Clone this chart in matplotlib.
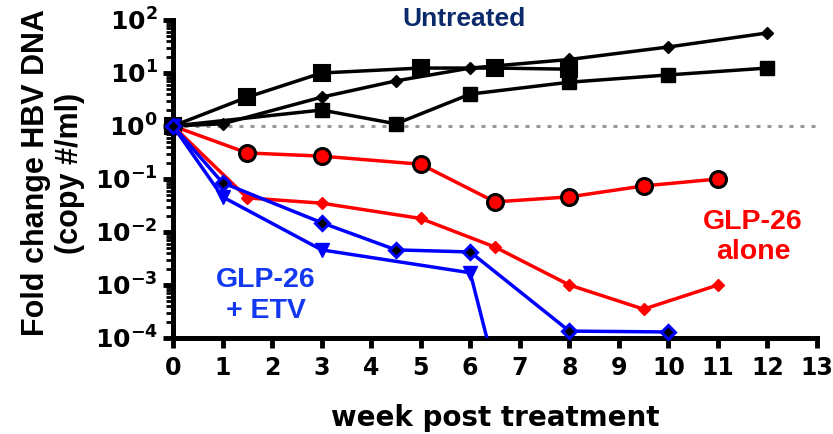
import numpy as np
import matplotlib
matplotlib.use("Agg")
import matplotlib.pyplot as plt
from matplotlib.ticker import LogLocator, NullFormatter

plt.rcParams["font.family"] = ["Liberation Sans", "DejaVu Sans"]
plt.rcParams["font.weight"] = "bold"

# untreated animals (black)
untreated_a_weeks = [0, 1.5, 3, 5, 6.5, 8]
untreated_a = [1, 3.5, 10, 12.4, 12.4, 11.8]
untreated_b_weeks = [0, 3, 4.5, 6, 8, 10, 12]
untreated_b = [1, 2.0, 1.1, 4.0, 6.7, 9.2, 12.4]
untreated_c_weeks = [0, 1, 3, 4.5, 6, 8, 10, 12]
untreated_c = [1, 1.1, 3.5, 7.1, 12.4, 18, 31, 57]

# GLP-26 alone (red)
glp_weeks = [0, 1.5, 3, 5, 6.5, 8, 9.5, 11]
glp_circle = [1, 0.31, 0.27, 0.19, 0.037, 0.046, 0.074, 0.10]
glp_diamond = [1, 0.044, 0.035, 0.018, 0.0052, 0.001, 0.00035, 0.001]

# GLP-26 + ETV (blue)
etv_diamond_weeks = [0, 1, 3, 4.5, 6, 8, 10]
etv_diamond = [1, 0.085, 0.015, 0.0046, 0.0042, 0.000135, 0.00013]
etv_triangle_weeks = [0, 1, 3, 6, 6.5]
etv_triangle = [1, 0.046, 0.0046, 0.0017, 0.000025]

x_ticks = list(range(14))
y_exponents = list(range(-4, 3))

RED = "#ff0000"
BLUE = "#0000ff"
LINE_KW = {"linewidth": 2.5, "clip_on": False, "zorder": 4}

fig = plt.figure(figsize=(8.33, 4.34), dpi=100)
ax = fig.add_axes([173 / 833, 1 - 338 / 434, (817 - 173) / 833, (338 - 20) / 434])

ax.plot([0, 13], [1, 1], color="#999999", linewidth=2.2,
        linestyle=(0, (1.3, 2.3)), zorder=2)

ax.plot(untreated_a_weeks, untreated_a, color="black", marker="s", markersize=12,
        markeredgewidth=1.5, markeredgecolor="black", **LINE_KW)
ax.plot(untreated_b_weeks, untreated_b, color="black", marker="s", markersize=10.5,
        **LINE_KW)
ax.plot(untreated_c_weeks, untreated_c, color="black", marker="D", markersize=6.5,
        **LINE_KW)

ax.plot(glp_weeks, glp_circle, color=RED, marker="o", markersize=11.5,
        markerfacecolor=RED, markeredgecolor="black", markeredgewidth=2.2, **LINE_KW)
ax.plot(glp_weeks, glp_diamond, color=RED, marker="D", markersize=6.5, **LINE_KW)

ax.plot(etv_triangle_weeks, etv_triangle, color=BLUE, marker="v", markersize=10,
        linewidth=2.5, zorder=4)
ax.plot(etv_diamond_weeks, etv_diamond, color=BLUE, marker="D", markersize=7.5,
        markerfacecolor="black", markeredgecolor=BLUE, markeredgewidth=2.2, **LINE_KW)

ax.set_yscale("log")
ax.set_ylim(1e-4, 1e2)
ax.set_xlim(0, 13)
ax.set_xticks(x_ticks)
ax.set_yticks([10.0 ** k for k in y_exponents],
              labels=[rf"$\mathdefault{{10^{{{k}}}}}$" for k in y_exponents])
ax.yaxis.set_minor_locator(LogLocator(base=10, subs=np.arange(2, 10)))
ax.yaxis.set_minor_formatter(NullFormatter())

ax.spines[["top", "right"]].set_visible(False)
for side in ["left", "bottom"]:
    ax.spines[side].set_linewidth(3.6)
ax.tick_params(which="major", direction="out", length=7, width=3.5)
ax.tick_params(axis="x", pad=6)
ax.tick_params(axis="y", pad=4)
ax.tick_params(axis="y", which="minor", direction="out", length=5, width=2)
for lbl in ax.get_xticklabels():
    lbl.set_fontfamily("DejaVu Sans")
    lbl.set_fontweight("bold")
    lbl.set_fontsize(17)
for lbl in ax.get_yticklabels():
    lbl.set_fontfamily("DejaVu Sans")
    lbl.set_fontweight("bold")
    lbl.set_fontsize(18)

ax.set_xlabel("week post treatment", family="DejaVu Sans", fontsize=20,
              fontweight="bold", labelpad=17)
fig.text(53 / 833, 1 - 173 / 434, "Fold change HBV DNA\n(copy #/ml)", rotation=90,
         ha="center", va="center", multialignment="center", fontsize=22,
         fontweight="bold", linespacing=1.2)

ax.text(5.88, 10 ** 2.02, "Untreated", color="#0b2a6b", fontsize=19,
        fontweight="bold", ha="center", va="center")
ax.text(11.71, 10 ** -2.1, "GLP-26\nalone", color=RED, fontsize=20.5,
        fontweight="bold", ha="center", va="center", linespacing=1.2)
ax.text(1.88, 10 ** -3.2, "GLP-26\n+ ETV", color="#1238f0", fontsize=20.5,
        fontweight="bold", ha="center", va="center", linespacing=1.25)

fig.savefig("out.png", dpi=100)
